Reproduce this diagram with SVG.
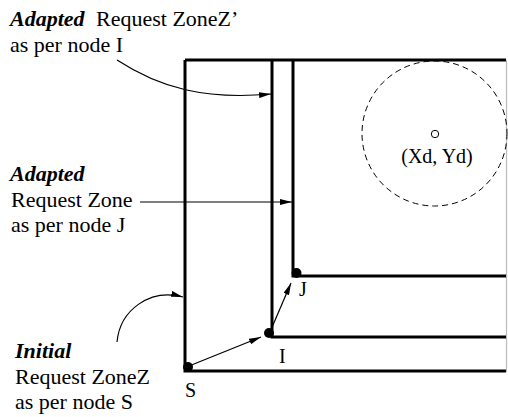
<svg xmlns="http://www.w3.org/2000/svg" width="508" height="417" viewBox="0 0 508 417">
<defs>
<style>
.zone{fill:none;stroke:#000;stroke-width:3}
.con{fill:none;stroke:#000;stroke-width:1.2}
.dot{fill:#000}
</style>
<marker id="ah" viewBox="0 0 12 6" refX="12" refY="3" markerWidth="12" markerHeight="6" markerUnits="userSpaceOnUse" orient="auto">
<path d="M0,0 L12,3 L0,6 Z" fill="#000"/>
</marker>
</defs>
<rect width="508" height="417" fill="#fff"/>
<g id="zone-s">
<path class="zone" d="M185,60 V371 H506 M185,60 H506"/>
<line x1="506.5" y1="60" x2="506.5" y2="372" stroke="#bbb" stroke-width="1.2"/>
</g>
<g id="zone-i"><path class="zone" d="M272,60 V337 H506"/></g>
<g id="zone-j"><path class="zone" d="M293,60 V276 H506"/></g>
<g id="destination">
<circle cx="434.5" cy="133.5" r="72.5" fill="none" stroke="#000" stroke-width="1" stroke-dasharray="6,4"/>
<circle cx="435" cy="134" r="3.7" fill="#fff" stroke="#000" stroke-width="1"/>
<text font-family="Liberation Serif, serif" font-size="20" x="437" y="163" text-anchor="middle">(Xd, Yd)</text>
</g>
<g id="node-s"><circle class="dot" cx="188" cy="367" r="5"/><text font-family="Liberation Serif, serif" font-size="20" x="185" y="397">S</text></g>
<g id="node-i"><circle class="dot" cx="269" cy="333" r="5"/><text font-family="Liberation Serif, serif" font-size="20" x="279" y="363">I</text></g>
<g id="node-j"><circle class="dot" cx="296.5" cy="273" r="5"/><text font-family="Liberation Serif, serif" font-size="20" x="299" y="296">J</text></g>
<g id="label-top">
<text font-family="Liberation Serif, serif" font-size="22" x="10" y="26"><tspan font-weight="bold" font-style="italic">Adapted</tspan><tspan x="96">Request ZoneZ’</tspan></text>
<text font-family="Liberation Serif, serif" font-size="22" x="10" y="51.5">as per node I</text>
</g>
<g id="label-mid">
<text font-family="Liberation Serif, serif" font-size="22" font-weight="bold" font-style="italic" x="10" y="181">Adapted</text>
<text font-family="Liberation Serif, serif" font-size="22" x="11" y="206.5">Request Zone</text>
<text font-family="Liberation Serif, serif" font-size="22" x="11" y="232">as per node J</text>
</g>
<g id="label-bottom">
<text font-family="Liberation Serif, serif" font-size="22" font-weight="bold" font-style="italic" x="15" y="357.5">Initial</text>
<text font-family="Liberation Serif, serif" font-size="22" x="15" y="383.5">Request ZoneZ</text>
<text font-family="Liberation Serif, serif" font-size="22" x="15" y="409">as per node S</text>
</g>
<g id="connectors">
<path class="con" d="M117,60 C160,88 205,100 271,94" marker-end="url(#ah)"/>
<path class="con" d="M140,202 H292" marker-end="url(#ah)"/>
<path class="con" d="M117,342 C120,310 150,288 183,297" marker-end="url(#ah)"/>
<path class="con" d="M189,366 L261,337" marker-end="url(#ah)"/>
<path class="con" d="M270,332 L291,283" marker-end="url(#ah)"/>
</g>
</svg>
